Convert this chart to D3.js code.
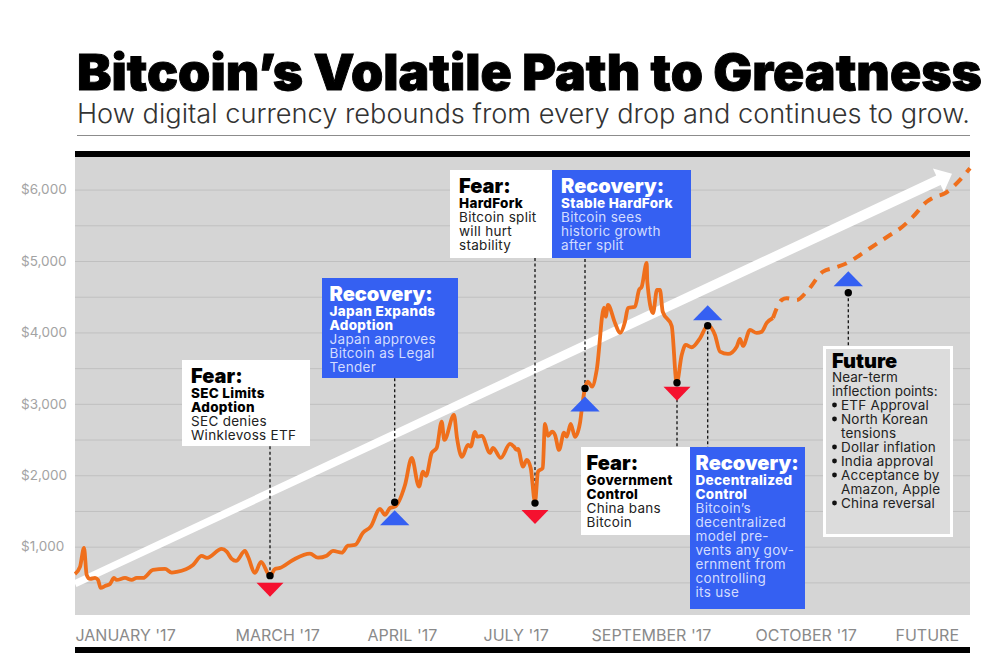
<!DOCTYPE html>
<html lang="en">
<head>
<meta charset="utf-8">
<title>Bitcoin's Volatile Path to Greatness</title>
<script src="https://cdnjs.cloudflare.com/ajax/libs/d3/7.8.5/d3.min.js"></script>
<style>
    html, body { margin: 0; padding: 0; background: #fff; }
    svg { display: block; }
    text { font-family: Inter, "Open Sans", sans-serif; }
    .grid .domain { display: none; }
    .grid line { stroke: #c0c0c0; stroke-width: 1; }
    .grid text { fill: #a3a3a3; font-size: 13.5px; text-anchor: start; }
    .months .domain, .months line { display: none; }
    .months text { fill: #8a8a8a; font-size: 16px; text-anchor: start; }
</style>
</head>
<body>
<svg id="chart" width="1006" height="668"></svg>
<script>
// timeline runs 0-895 along the axis (the months are not evenly spaced in the original)
var actualTime = [0, 5, 9, 11.7, 15, 20, 23, 25.7, 30, 35, 39, 41.7, 50, 56.7, 61.7, 68, 78, 90, 96.7, 101.7,
    118, 126.7, 132, 146.7, 151.7, 156.7, 161, 170, 173, 180, 186, 195, 200, 205, 218, 235, 243, 251.7, 258, 266.7,
    273, 280, 288, 295.7, 305, 310, 315, 320, 330, 336.7, 344, 348, 351, 356.7, 361.7, 366.7, 369.3, 379, 382, 387,
    393, 395.7, 400, 402, 406.7, 415, 418, 425.7, 435, 439, 441.7, 443, 448, 451.7, 455.7, 460, 463, 467.7, 470, 473,
    477, 480, 484, 489, 491.7, 495.7, 500, 505, 506.7, 510, 513, 517, 521.7, 529, 530.7, 533, 540, 545, 550, 553,
    560, 564, 566.7, 571.7, 572.3, 578, 582, 585, 587.7, 596.7, 601.7, 606.7, 610.7, 616.7, 625, 632.7, 640, 645,
    653, 661.7, 665, 668, 675, 681.7, 686.7, 691.7, 698];
var actualPrice = [618, 716, 982, 604, 548, 562, 534, 422, 450, 478, 562, 534, 562, 534, 562, 562, 674, 688, 636, 646,
    744, 870, 842, 968, 930, 828, 800, 940, 860, 632, 786, 594, 688, 702, 814, 902, 846, 874, 940, 916,
    1014, 1024, 1196, 1280, 1528, 1444, 1542, 1560, 1864, 2242, 1840, 2050, 1990, 2312, 2382, 2750, 2494, 2844, 2522, 2256,
    2424, 2400, 2606, 2540, 2550, 2312, 2382, 2242, 2438, 2400, 2354, 2368, 2120, 2214, 2102, 1626, 2050, 2102, 2718, 2550,
    2610, 2564, 2354, 2596, 2540, 2718, 2536, 2732, 2914, 3222, 3310, 3240, 3474, 4346, 4220, 4384, 4132, 3992, 4150, 4342,
    4360, 4594, 4640, 4972, 4710, 4272, 4594, 4594, 4290, 4090, 3296, 3684, 3824, 3792, 3918, 4094, 3964, 3730,
    3698, 3800, 3908, 3810, 4034, 3992, 4010, 4132, 4202];

var futureTime = [698, 706.7, 711.7, 721.7, 731.7, 748, 760, 771.7, 785, 795, 815, 826.7, 838, 851.7, 858, 870, 880, 895];
var futurePrice = [4202, 4454, 4478, 4454, 4570, 4850, 4906, 4968, 5084, 5178, 5364, 5472, 5620, 5830, 5886, 5948, 6064, 6298];

var priceTicks = [500, 1000, 1500, 2000, 2500, 3000, 3500, 4000, 4500, 5000, 5500, 6000];
var monthLabels = ["JANUARY '17", "MARCH '17", "APRIL '17", "JULY '17", "SEPTEMBER '17", "OCTOBER '17", "FUTURE"];
var monthTimes = [0, 160, 292, 408, 516, 680, 820];

var trendTime = [0, 877];
var trendPrice = [480, 6220];

// dots on the line: type 1 = recovery (blue), 0 = fear (red)
var eventTime = [195, 319.7, 460, 510, 602, 632.7, 773.3];
var eventPrice = [594, 1622, 1610, 3216, 3296, 4094, 4556];
var eventType = [0, 1, 0, 1, 0, 1, 1];
var triangleGap = [7, 8, 7, 8, 4, -5.5, -6.5];
var leaderEnd = [446, 378, 258, 258, 447, 447, 346];

var boxLeft = [182, 322, 450, 552, 581, 690];
var boxTop = [360, 278, 170, 170, 447, 447];
var boxRight = [310, 458, 552, 691, 690, 805];
var boxBottom = [446, 378, 258, 258, 535, 609];
var boxKind = [0, 1, 0, 1, 0, 1];
var boxHead = ["Fear:", "Recovery:", "Fear:", "Recovery:", "Fear:", "Recovery:"];
var boxBold = [["SEC Limits", "Adoption"], ["Japan Expands", "Adoption"], ["HardFork"], ["Stable HardFork"],
    ["Government", "Control"], ["Decentralized", "Control"]];
var boxBody = [["SEC denies", "Winklevoss ETF"], ["Japan approves", "Bitcoin as Legal", "Tender"],
    ["Bitcoin split", "will hurt", "stability"], ["Bitcoin sees", "historic growth", "after split"],
    ["China bans", "Bitcoin"],
    ["Bitcoin\u2019s", "decentralized", "model pre-", "vents any gov-", "ernment from", "controlling", "its use"]];

var futureLines = ["Near-term", "inflection points:"];
var futureBullets = ["ETF Approval", "North Korean", "tensions", "Dollar inflation", "India approval",
    "Acceptance by", "Amazon, Apple", "China reversal"];
var futureHasDot = [1, 1, 0, 1, 1, 1, 0, 1];

var svg = d3.select("#chart");
var plotLeft = 75, plotRight = 970, plotTop = 157, plotBottom = 615;
var blue = "#3560f2", red = "#f5112f", orange = "#ef6f1c";

var x = d3.scaleLinear().domain([0, 895]).range([plotLeft, plotRight]);
var y = d3.scaleLinear().domain([43, 6456]).range([plotBottom, plotTop]);

svg.append("text").attr("x", 77).attr("y", 90)
    .attr("textLength", 905).attr("lengthAdjust", "spacingAndGlyphs")
    .style("font-size", "50px").style("font-weight", 900).style("fill", "#000")
    .style("stroke", "#000").style("stroke-width", 0.9)
    .text("Bitcoin\u2019s Volatile Path to Greatness");
svg.append("text").attr("x", 77).attr("y", 123)
    .attr("textLength", 893).attr("lengthAdjust", "spacingAndGlyphs")
    .style("font-size", "26.5px").style("font-weight", 300).style("fill", "#333")
    .text("How digital currency rebounds from every drop and continues to grow.");
svg.append("line").attr("x1", 77).attr("x2", 970).attr("y1", 135.5).attr("y2", 135.5)
    .attr("stroke", "#8c8c8c").attr("stroke-width", 1);

svg.append("rect").attr("x", plotLeft).attr("y", plotTop)
    .attr("width", plotRight - plotLeft).attr("height", plotBottom - plotTop).attr("fill", "#d5d5d5");
svg.append("rect").attr("x", plotLeft).attr("y", 151).attr("width", plotRight - plotLeft).attr("height", 6).attr("fill", "#000");
svg.append("rect").attr("x", plotLeft).attr("y", 647).attr("width", plotRight - plotLeft).attr("height", 6).attr("fill", "#000");

// grid and price labels
var yAxis = d3.axisLeft(y).tickValues(priceTicks)
    .tickSize(-(plotRight - plotLeft)).tickPadding(0)
    .tickFormat(function (d) { return d % 1000 === 0 ? "$" + d3.format(",")(d) : ""; });
var grid = svg.append("g").attr("class", "grid").attr("transform", "translate(" + plotLeft + ",0)").call(yAxis);
grid.selectAll("text").attr("x", 21 - plotLeft);

var xAxis = d3.axisBottom(x).tickValues(monthTimes).tickSize(0)
    .tickFormat(function (d, i) { return monthLabels[i]; });
svg.append("g").attr("class", "months").attr("transform", "translate(0,627)").call(xAxis);

// white trend arrow, tapering towards the head
var tx0 = x(trendTime[0]), ty0 = y(trendPrice[0]), tx1 = x(trendTime[1]), ty1 = y(trendPrice[1]);
var ang = Math.atan2(ty1 - ty0, tx1 - tx0), nx = -Math.sin(ang), ny = Math.cos(ang);
var bx = tx1 - 15 * Math.cos(ang), by = ty1 - 15 * Math.sin(ang);
var arrowPts = [
    [tx0 + nx * 3.5, ty0 + ny * 3.5], [bx + nx * 5.2, by + ny * 5.2], [bx + nx * 13, by + ny * 13], [tx1, ty1],
    [bx - nx * 13, by - ny * 13], [bx - nx * 5.2, by - ny * 5.2], [tx0 - nx * 3.5, ty0 - ny * 3.5]
];
svg.append("path").attr("d", "M" + arrowPts.join("L") + "Z").attr("fill", "#fff");

// leaders go under the price line
svg.selectAll(".leader").data(eventTime).enter().append("line")
    .attr("class", "leader")
    .attr("x1", function (d) { return x(d); }).attr("x2", function (d) { return x(d); })
    .attr("y1", function (d, i) { return y(eventPrice[i]); })
    .attr("y2", function (d, i) { return leaderEnd[i]; })
    .attr("stroke", "#111").attr("stroke-width", 1.3).attr("stroke-dasharray", "3,2.5");

var actual = actualTime.map(function (d, i) { return [d, actualPrice[i]]; });
var future = futureTime.map(function (d, i) { return [d, futurePrice[i]]; });
var line = d3.line().x(function (d) { return x(d[0]); }).y(function (d) { return y(d[1]); })
    .curve(d3.curveMonotoneX);

svg.append("path").attr("d", line(actual)).attr("fill", "none").attr("stroke", orange)
    .attr("stroke-width", 3.8).attr("stroke-linejoin", "round");
svg.append("path").attr("d", line(future)).attr("fill", "none").attr("stroke", orange)
    .attr("stroke-width", 4).attr("stroke-dasharray", "10,8");

// triangles, then dots
svg.selectAll(".tri").data(eventTime).enter().append("path")
    .attr("class", "tri")
    .attr("d", function (d, i) {
        var cx = x(d), cy = y(eventPrice[i]), up = eventType[i] === 1;
        var gap = triangleGap[i], base, tip;
        if (up && gap > 0) { tip = cy + gap; base = tip + 15; }
        else if (up) { base = cy + gap; tip = base - 15; }
        else { base = cy + gap; tip = base + 14; }
        var half = up ? 14.7 : 13.5;
        return "M" + (cx - half) + "," + base + "L" + (cx + half) + "," + base + "L" + cx + "," + tip + "Z";
    })
    .attr("fill", function (d, i) { return eventType[i] === 1 ? blue : red; });

svg.selectAll(".dot").data(eventTime).enter().append("circle")
    .attr("class", "dot")
    .attr("cx", function (d) { return x(d); })
    .attr("cy", function (d, i) { return y(eventPrice[i]); })
    .attr("r", 3.7).attr("fill", "#000");

// annotation boxes
boxHead.forEach(function (head, i) {
    var isBlue = boxKind[i] === 1;
    var tx = boxLeft[i] + (i === 5 ? 5.5 : i === 4 ? 5.5 : i === 0 ? 9 : i === 1 ? 7.5 : 9);
    svg.append("rect").attr("x", boxLeft[i]).attr("y", boxTop[i])
        .attr("width", boxRight[i] - boxLeft[i]).attr("height", boxBottom[i] - boxTop[i])
        .attr("fill", isBlue ? blue : "#fff");

    var yy = boxTop[i] + 23;
    svg.append("text").attr("x", tx).attr("y", yy)
        .style("font-size", "20px").style("font-weight", 900)
        .style("fill", isBlue ? "#fff" : "#000").text(head);
    yy += 1;
    boxBold[i].forEach(function (t) {
        yy += 14;
        svg.append("text").attr("x", tx).attr("y", yy)
            .style("font-size", "13.5px").style("font-weight", 800).style("letter-spacing", "0.3px")
            .style("fill", isBlue ? "#fff" : "#000").text(t);
    });
    boxBody[i].forEach(function (t) {
        yy += 14;
        svg.append("text").attr("x", tx).attr("y", yy)
            .style("font-size", "13.5px").style("font-weight", 400).style("letter-spacing", "0.3px")
            .style("fill", isBlue ? "#d3dcff" : "#222").text(t);
    });
});

// future box
svg.append("rect").attr("x", 824.5).attr("y", 347.5).attr("width", 127).attr("height", 188)
    .attr("fill", "#dcdcdc").attr("stroke", "#fff").attr("stroke-width", 3);
svg.append("text").attr("x", 832).attr("y", 368)
    .style("font-size", "20px").style("font-weight", 900).style("fill", "#000").text("Future");
futureLines.forEach(function (t, i) {
    svg.append("text").attr("x", 832).attr("y", 382 + i * 14)
        .style("font-size", "13.5px").style("fill", "#222").text(t);
});
futureBullets.forEach(function (t, i) {
    var by2 = 410 + i * 14;
    if (futureHasDot[i]) {
        svg.append("circle").attr("cx", 834.5).attr("cy", by2 - 5).attr("r", 2.4).attr("fill", "#111");
    }
    svg.append("text").attr("x", 841).attr("y", by2)
        .style("font-size", "13.5px").style("letter-spacing", "0.2px").style("fill", "#222").text(t);
});
</script>
</body>
</html>
